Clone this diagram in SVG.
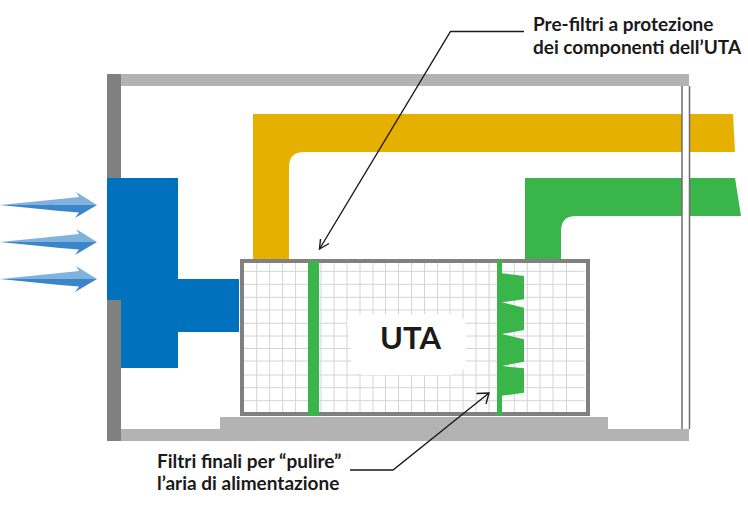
<svg xmlns="http://www.w3.org/2000/svg" xmlns:xlink="http://www.w3.org/1999/xlink" width="748" height="506" viewBox="0 0 748 506">
<style>
.lbl{font-family:Lato,"Noto Sans","Liberation Sans",sans-serif;font-size:19px;font-weight:700;fill:#1a1a1a}
.grid{stroke:#d4d4d4;stroke-width:1;fill:none}
.lead{stroke:#1a1a1a;stroke-width:1.400;fill:none}
.dark{fill:#3b86c8}.light{fill:#7fb3de}
.g{fill:#39b54a}.y{fill:#e6b000}.b{fill:#0071bc}
</style>
<defs>
<g id="inflow">
<path class="light" d="M0 0L60 -6L79 -8L76 -13L97 0Z"/>
<path class="dark" d="M0 0L60 6L79 7.500L75 13L97 0Z"/>
</g>
</defs>
<rect width="748" height="506" fill="#fff"/>
<g id="building">
<rect x="121" y="74" width="568" height="12" fill="#b3b3b3"/>
<rect x="121" y="429" width="568" height="12" fill="#b3b3b3"/>
<rect x="220" y="417" width="388" height="12" fill="#b3b3b3"/>
<rect x="107" y="74" width="14" height="367" fill="#808080"/>
</g>
<g id="supply-duct"><path class="y" d="M253 259V114H733L735 152H304Q289 152 289 167V259Z"/></g>
<g id="return-duct"><path class="g" d="M525 259V178H735L741 216H576Q561 216 561 231V259Z"/></g>
<g id="partition">
<rect x="682" y="86" width="8" height="343" fill="#fff"/>
<path d="M682 86V429M689.500 86V429" stroke="#6e6e6e" stroke-width="1.500" fill="none"/>
</g>
<g id="intake"><path class="b" d="M107 178H178V279H239V332H178V368H121V300H107Z"/></g>
<g id="air-arrows">
<use href="#inflow" x="0" y="205"/>
<use href="#inflow" x="0" y="242"/>
<use href="#inflow" x="0" y="279"/>
</g>
<g id="uta">
<rect x="242" y="261" width="346" height="153" fill="#fff"/>
<path class="grid" d="M256.700 263V412M269.700 263V412M282.600 263V412M295.600 263V412M321 263V412M334 263V412M347 263V412M360 263V412M373 263V412M385.500 263V412M398.500 263V412M411.500 263V412M424.500 263V412M437.500 263V412M450 263V412M463 263V412M476 263V412M489 263V412M514.300 263V412M527.300 263V412M540 263V412M553 263V412M566.500 263V412M244 271.300H585M244 284.300H585M244 297.300H585M244 310H585M244 323.300H585M244 336H585M244 348.500H585M244 361H585M244 375H585M244 387.700H585M244 400.700H585"/>
<path d="M347 320L362 314H452L466 320V368L452 375H362L352 368Z" fill="#fff"/>
<rect x="242" y="261" width="346" height="153" fill="none" stroke="#808080" stroke-width="4"/>
<text x="380" y="349" font-family="Lato,'Noto Sans','Liberation Sans',sans-serif" font-size="31" font-weight="700" fill="#1a1a1a">UTA</text>
</g>
<g id="pre-filter"><rect class="g" x="308" y="261" width="11" height="155"/></g>
<g id="final-filter"><path class="g" d="M497 259H502V273.300L524 276V299.300L502 302.300L524 307.700V330L502 334L524 339.300V361.700L502 366L524 368.300V392.700L502 395.700V416H497Z"/></g>
<g id="connectors">
<path class="lead" d="M524 31.500H450.500L319.500 249"/>
<path class="lead" d="M320.500 239L319.500 249L329 243.500"/>
<path class="lead" d="M350 470H393L489 393"/>
<path class="lead" d="M476.500 393.500L489 393L486 404"/>
</g>
<g id="label-pre">
<text class="lbl" x="533" y="31">Pre-filtri a protezione</text>
<text class="lbl" x="533" y="53.500">dei componenti dell’UTA</text>
</g>
<g id="label-final">
<text class="lbl" x="157" y="467.500">Filtri finali per “pulire”</text>
<text class="lbl" x="157" y="490">l’aria di alimentazione</text>
</g>
</svg>
